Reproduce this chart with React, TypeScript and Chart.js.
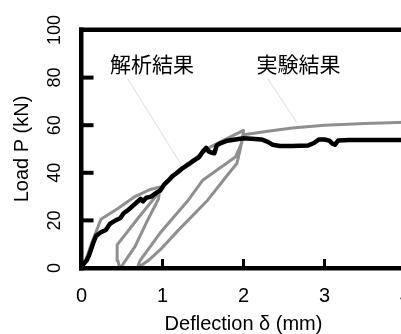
import React, { useEffect, useRef } from 'react';
import { Chart, registerables } from 'chart.js';

Chart.register(...registerables);

// Analysis result (gray), with two unload/reload loops
const analysisX = [0, 0.05, 0.12, 0.24, 0.45, 0.66, 0.85, 0.97, 0.95, 0.8, 0.66, 0.5, 0.47, 0.45, 0.44, 0.7, 0.93, 1.0, 1.2, 1.4, 1.6, 1.8, 2.0, 1.98, 1.92, 1.8, 1.56, 1.2, 0.97, 0.82, 0.69, 0.72, 0.97, 1.32, 1.5, 1.9, 1.97, 2.0, 2.3, 2.6, 3.0, 3.5, 4.0];
const analysisY = [0, 3, 10, 20.5, 25, 30, 33, 34, 29, 19, 9, 1, 0, 3, 9.7, 21, 30.7, 34.5, 41, 46, 51, 54.5, 57.8, 53, 44, 39, 28.6, 16, 7.6, 3, 0, 3, 14.7, 28.6, 37, 46.6, 52, 56, 57.5, 58.8, 60, 60.7, 61.2];

// Experiment result (black)
const testX = [0, 0.02, 0.06, 0.09, 0.12, 0.15, 0.18, 0.24, 0.3, 0.35, 0.42, 0.48, 0.52, 0.58, 0.63, 0.68, 0.73, 0.76, 0.8, 0.86, 0.92, 0.97, 1.02, 1.08, 1.12, 1.18, 1.25, 1.32, 1.38, 1.45, 1.5, 1.54, 1.57, 1.6, 1.64, 1.67, 1.72, 1.8, 1.9, 2.0, 2.1, 2.22, 2.3, 2.36, 2.45, 2.6, 2.8, 2.87, 2.93, 3.0, 3.06, 3.1, 3.13, 3.17, 3.3, 3.6, 4.0];
const testY = [0, 1.5, 3, 5, 8, 11, 13.5, 15, 16, 18.5, 20, 21, 23, 24.5, 26, 27.5, 29, 28, 29.5, 30, 31.5, 32.5, 35, 37, 38.5, 40, 42, 43.5, 45, 46.5, 49, 50.5, 49, 48.5, 48.2, 51.5, 52.5, 53.5, 54, 54.5, 54.3, 54, 53, 51.8, 51.3, 51.3, 51.5, 52.5, 54, 54, 53.5, 52.2, 51.8, 53.6, 53.8, 53.8, 53.8];

const xRange = [0, 4];
const yRange = [0, 100];
const xStep = 1;
const yStep = 20;

const xTitle = 'Deflection δ (mm)';
const yTitle = 'Load P (kN)';

// annotation labels: text, label position (data units), leader line start/end (data units)
const noteTexts = ['解析結果', '実験結果'];
const notePos = [[0.87, 85.5], [2.68, 85.5]];
const leaderFrom = [[0.57, 79.5], [2.3, 79.5]];
const leaderTo = [[1.22, 44], [2.66, 61]];

const FONT = 'Arial, "Liberation Sans", sans-serif';

const decorPlugin = {
  id: 'frameDecor',
  afterDraw(chart: any) {
    const ctx: CanvasRenderingContext2D = chart.ctx;
    const a = chart.chartArea;
    const x = chart.scales.x;
    const y = chart.scales.y;
    ctx.save();
    ctx.fillStyle = '#000000';
    // top frame line, left and bottom axes
    ctx.fillRect(a.left - 2.5, a.top - 2.5, a.right - a.left + 5, 4.5);
    ctx.fillRect(a.left - 2.5, a.top - 2.5, 4.5, a.bottom - a.top + 5);
    ctx.fillRect(a.left - 2.5, a.bottom - 2, a.right - a.left + 5, 4.5);
    // inside tick marks
    for (const t of x.ticks) {
      const px = x.getPixelForValue(t.value);
      ctx.fillRect(px - 1.5, a.bottom - 9, 3, 9);
    }
    for (const t of y.ticks) {
      const py = y.getPixelForValue(t.value);
      ctx.fillRect(a.left, py - 2, 12, 4);
    }
    // leader lines
    ctx.strokeStyle = '#dcdcdc';
    ctx.lineWidth = 1;
    for (let i = 0; i < noteTexts.length; i++) {
      ctx.beginPath();
      ctx.moveTo(x.getPixelForValue(leaderFrom[i][0]), y.getPixelForValue(leaderFrom[i][1]));
      ctx.lineTo(x.getPixelForValue(leaderTo[i][0]), y.getPixelForValue(leaderTo[i][1]));
      ctx.stroke();
    }
    // labels
    ctx.fillStyle = '#000';
    ctx.font = '21px "Noto Sans CJK JP", sans-serif';
    ctx.textAlign = 'center';
    ctx.textBaseline = 'middle';
    for (let i = 0; i < noteTexts.length; i++) {
      ctx.fillText(noteTexts[i], x.getPixelForValue(notePos[i][0]), y.getPixelForValue(notePos[i][1]));
    }
    ctx.restore();
  },
};

export default function App() {
  const ref = useRef<HTMLCanvasElement | null>(null);

  useEffect(() => {
    if (!ref.current) return;
    const chart = new Chart(ref.current, {
      type: 'scatter',
      data: {
        datasets: [
          {
            label: '実験結果',
            data: testX.map((v, i) => ({ x: v, y: testY[i] })),
            showLine: true,
            borderColor: '#000',
            borderWidth: 4.5,
            pointRadius: 0,
            borderJoinStyle: 'round',
            borderCapStyle: 'round',
            order: 0,
          },
          {
            label: '解析結果',
            data: analysisX.map((v, i) => ({ x: v, y: analysisY[i] })),
            showLine: true,
            borderColor: '#8f8f8f',
            borderWidth: 3,
            pointRadius: 0,
            borderJoinStyle: 'round',
            order: 1,
          },
        ],
      },
      options: {
        responsive: false,
        animation: false,
        events: [],
        layout: { padding: { left: 0, right: 34.5, top: 30, bottom: 0 } },
        plugins: { legend: { display: false }, tooltip: { enabled: false } },
        scales: {
          x: {
            type: 'linear',
            min: xRange[0],
            max: xRange[1],
            grid: { display: false, drawTicks: false },
            border: { display: false },
            ticks: { stepSize: xStep, color: '#000', padding: 16, font: { family: FONT, size: 20 } },
            title: { display: true, text: xTitle, color: '#000', font: { family: FONT, size: 20, lineHeight: 1 }, padding: { top: 0, bottom: 0 } },
            afterFit: (s: any) => { s.height = 66; },
          },
          y: {
            type: 'linear',
            min: yRange[0],
            max: yRange[1],
            grid: { display: false, drawTicks: false },
            border: { display: false },
            ticks: { stepSize: yStep, color: '#000', padding: 11, minRotation: 90, maxRotation: 90, crossAlign: 'center', font: { family: FONT, size: 18 } },
            title: { display: true, text: yTitle, color: '#000', font: { family: FONT, size: 20, lineHeight: 1 }, padding: { top: 12, bottom: 0 } },
            afterFit: (s: any) => { s.width = 81.5; },
          },
        },
      },
      plugins: [decorPlugin],
    } as any);
    return () => chart.destroy();
  }, []);

  return (
    <div style={{ position: 'fixed', left: 0, top: 0, width: 401, height: 334, overflow: 'hidden', background: '#fff' }}>
      <canvas ref={ref} width={440} height={334} style={{ display: 'block' }} />
    </div>
  );
}
